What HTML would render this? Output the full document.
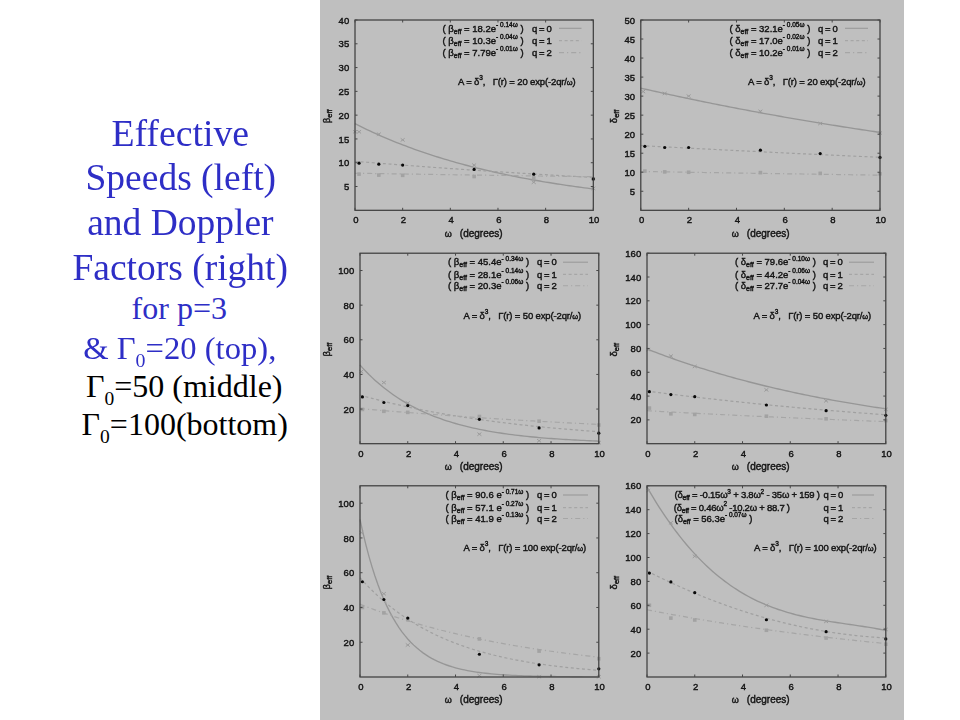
<!DOCTYPE html>
<html><head><meta charset="utf-8"><title>Effective Speeds and Doppler Factors</title>
<style>
html,body{margin:0;padding:0;background:#fff;}
body{width:960px;height:720px;position:relative;overflow:hidden;font-family:"Liberation Serif",serif;}
.panel{position:absolute;left:320px;top:0;width:584px;height:720px;background:#bfbfbf;}
svg{position:absolute;left:0;top:0;filter:blur(0.7px);}
svg text{font-family:"Liberation Sans",sans-serif;font-size:9.5px;fill:#141414;stroke:#141414;stroke-width:0.42px;}
.t{position:absolute;white-space:nowrap;text-align:center;line-height:1;}
.big{font-size:37.4px;color:#2e2ec6;transform:scaleX(1.003);}
.med{font-size:32px;color:#2e2ec6;}
.blk{font-size:32px;color:#000;}
sub{font-size:61%;vertical-align:baseline;position:relative;top:0.42em;}
</style></head><body>
<div class="panel"></div>
<div class="t big" style="left:0;width:360.5px;top:114.7px;transform:scaleX(1.01)">Effective</div>
<div class="t big" style="left:0;width:361.6px;top:158.6px">Speeds (left)</div>
<div class="t big" style="left:0;width:360.8px;top:203.5px">and Doppler</div>
<div class="t big" style="left:0;width:360.4px;top:248.7px">Factors (right)</div>
<div class="t med" style="left:0;width:358.5px;top:292.2px">for p=3</div>
<div class="t med" style="left:0;width:359.5px;top:331.5px;transform:scaleX(1.02)">&amp; Γ<sub>0</sub>=20 (top),</div>
<div class="t blk" style="left:0;width:368.5px;top:369.8px">Γ<sub>0</sub>=50 (middle)</div>
<div class="t blk" style="left:0;width:369.5px;top:408px">Γ<sub>0</sub>=100(bottom)</div>
<svg width="960" height="720" viewBox="0 0 960 720">
<g>
<polyline points="355,123.71 357.98,125.22 360.96,126.69 363.94,128.14 366.92,129.57 369.89,130.97 372.87,132.34 375.85,133.7 378.83,135.03 381.81,136.33 384.79,137.61 387.77,138.88 390.75,140.11 393.72,141.33 396.7,142.53 399.68,143.7 402.66,144.86 405.64,145.99 408.62,147.11 411.6,148.21 414.57,149.28 417.55,150.34 420.53,151.38 423.51,152.4 426.49,153.41 429.47,154.4 432.45,155.37 435.43,156.32 438.4,157.25 441.38,158.18 444.36,159.08 447.34,159.97 450.32,160.84 453.3,161.7 456.28,162.54 459.26,163.37 462.24,164.18 465.21,164.98 468.19,165.77 471.17,166.54 474.15,167.3 477.13,168.05 480.11,168.78 483.09,169.5 486.06,170.21 489.04,170.9 492.02,171.59 495,172.26 497.98,172.92 500.96,173.57 503.94,174.21 506.92,174.83 509.89,175.45 512.87,176.05 515.85,176.65 518.83,177.23 521.81,177.8 524.79,178.37 527.77,178.92 530.75,179.47 533.72,180 536.7,180.53 539.68,181.04 542.66,181.55 545.64,182.05 548.62,182.54 551.6,183.02 554.58,183.49 557.55,183.96 560.53,184.42 563.51,184.86 566.49,185.31 569.47,185.74 572.45,186.17 575.43,186.58 578.41,187 581.38,187.4 584.36,187.8 587.34,188.19 590.32,188.57 593.3,188.95" fill="none" stroke="#969696" stroke-width="1.35"/>
<polyline points="355,161.3 357.98,161.54 360.96,161.79 363.94,162.03 366.92,162.27 369.89,162.51 372.87,162.75 375.85,162.98 378.83,163.22 381.81,163.45 384.79,163.69 387.77,163.92 390.75,164.15 393.72,164.38 396.7,164.61 399.68,164.84 402.66,165.07 405.64,165.29 408.62,165.52 411.6,165.74 414.57,165.96 417.55,166.18 420.53,166.4 423.51,166.62 426.49,166.84 429.47,167.06 432.45,167.27 435.43,167.49 438.4,167.7 441.38,167.91 444.36,168.12 447.34,168.33 450.32,168.54 453.3,168.75 456.28,168.96 459.26,169.16 462.24,169.37 465.21,169.57 468.19,169.78 471.17,169.98 474.15,170.18 477.13,170.38 480.11,170.58 483.09,170.78 486.06,170.97 489.04,171.17 492.02,171.37 495,171.56 497.98,171.75 500.96,171.95 503.94,172.14 506.92,172.33 509.89,172.52 512.87,172.71 515.85,172.89 518.83,173.08 521.81,173.26 524.79,173.45 527.77,173.63 530.75,173.82 533.72,174 536.7,174.18 539.68,174.36 542.66,174.54 545.64,174.72 548.62,174.89 551.6,175.07 554.58,175.25 557.55,175.42 560.53,175.6 563.51,175.77 566.49,175.94 569.47,176.11 572.45,176.28 575.43,176.45 578.41,176.62 581.38,176.79 584.36,176.96 587.34,177.12 590.32,177.29 593.3,177.45" fill="none" stroke="#a0a0a0" stroke-width="1.2" stroke-dasharray="3 2.6"/>
<polyline points="355,173.24 357.98,173.29 360.96,173.33 363.94,173.38 366.92,173.42 369.89,173.47 372.87,173.52 375.85,173.56 378.83,173.61 381.81,173.65 384.79,173.7 387.77,173.75 390.75,173.79 393.72,173.84 396.7,173.88 399.68,173.93 402.66,173.97 405.64,174.02 408.62,174.06 411.6,174.11 414.57,174.15 417.55,174.2 420.53,174.24 423.51,174.29 426.49,174.33 429.47,174.38 432.45,174.42 435.43,174.47 438.4,174.51 441.38,174.56 444.36,174.6 447.34,174.65 450.32,174.69 453.3,174.74 456.28,174.78 459.26,174.83 462.24,174.87 465.21,174.91 468.19,174.96 471.17,175 474.15,175.05 477.13,175.09 480.11,175.13 483.09,175.18 486.06,175.22 489.04,175.27 492.02,175.31 495,175.35 497.98,175.4 500.96,175.44 503.94,175.48 506.92,175.53 509.89,175.57 512.87,175.61 515.85,175.66 518.83,175.7 521.81,175.74 524.79,175.79 527.77,175.83 530.75,175.87 533.72,175.92 536.7,175.96 539.68,176 542.66,176.05 545.64,176.09 548.62,176.13 551.6,176.17 554.58,176.22 557.55,176.26 560.53,176.3 563.51,176.34 566.49,176.39 569.47,176.43 572.45,176.47 575.43,176.51 578.41,176.56 581.38,176.6 584.36,176.64 587.34,176.68 590.32,176.72 593.3,176.77" fill="none" stroke="#a6a6a6" stroke-width="1.2" stroke-dasharray="5 3 1.2 3"/>
<path d="M353 130.2L357 133.4M353 133.4L357 130.2" stroke="#9a9a9a" stroke-width="1"/>
<path d="M357.05 130.2L361.05 133.4M357.05 133.4L361.05 130.2" stroke="#9a9a9a" stroke-width="1"/>
<path d="M376.83 132.58L380.83 135.78M376.83 135.78L380.83 132.58" stroke="#9a9a9a" stroke-width="1"/>
<path d="M400.66 138.29L404.66 141.49M400.66 141.49L404.66 138.29" stroke="#9a9a9a" stroke-width="1"/>
<path d="M472.15 163.5L476.15 166.7M472.15 166.7L476.15 163.5" stroke="#9a9a9a" stroke-width="1"/>
<path d="M531.72 180.63L535.72 183.83M531.72 183.83L535.72 180.63" stroke="#9a9a9a" stroke-width="1"/>
<path d="M591.3 186.82L595.3 190.02M591.3 190.02L595.3 186.82" stroke="#9a9a9a" stroke-width="1"/>
<rect x="357.25" y="172.34" width="3.6" height="3.6" fill="#a2a2a2"/>
<rect x="377.03" y="173.29" width="3.6" height="3.6" fill="#a2a2a2"/>
<rect x="400.86" y="173.53" width="3.6" height="3.6" fill="#a2a2a2"/>
<rect x="472.35" y="174.72" width="3.6" height="3.6" fill="#a2a2a2"/>
<rect x="531.92" y="176.15" width="3.6" height="3.6" fill="#a2a2a2"/>
<rect x="591.5" y="177.1" width="3.6" height="3.6" fill="#a2a2a2"/>
<circle cx="359.05" cy="163.2" r="1.6" fill="#080808"/>
<circle cx="378.83" cy="164.15" r="1.6" fill="#080808"/>
<circle cx="402.66" cy="165.1" r="1.6" fill="#080808"/>
<circle cx="474.15" cy="169.39" r="1.6" fill="#080808"/>
<circle cx="533.72" cy="174.14" r="1.6" fill="#080808"/>
<circle cx="593.3" cy="178.9" r="1.6" fill="#080808"/>
<rect x="355" y="20" width="238.3" height="190.3" fill="none" stroke="#3a3a3a" stroke-width="1.2"/>
<path d="M355 210.3v-2.5M355 20v2.5M402.66 210.3v-2.5M402.66 20v2.5M450.32 210.3v-2.5M450.32 20v2.5M497.98 210.3v-2.5M497.98 20v2.5M545.64 210.3v-2.5M545.64 20v2.5M593.3 210.3v-2.5M593.3 20v2.5M355 186.51h2.5M593.3 186.51h-2.5M355 162.73h2.5M593.3 162.73h-2.5M355 138.94h2.5M593.3 138.94h-2.5M355 115.15h2.5M593.3 115.15h-2.5M355 91.36h2.5M593.3 91.36h-2.5M355 67.57h2.5M593.3 67.57h-2.5M355 43.79h2.5M593.3 43.79h-2.5M355 20h2.5M593.3 20h-2.5" stroke="#484848" stroke-width="1" fill="none"/>
<text x="355.8" y="223.2" text-anchor="middle" font-size="9.2">0</text>
<text x="403.46" y="223.2" text-anchor="middle" font-size="9.2">2</text>
<text x="451.12" y="223.2" text-anchor="middle" font-size="9.2">4</text>
<text x="498.78" y="223.2" text-anchor="middle" font-size="9.2">6</text>
<text x="546.44" y="223.2" text-anchor="middle" font-size="9.2">8</text>
<text x="594.1" y="223.2" text-anchor="middle" font-size="9.2">10</text>
<text x="349.2" y="190.11" text-anchor="end" font-size="9.1">5</text>
<text x="349.2" y="166.33" text-anchor="end" font-size="9.1">10</text>
<text x="349.2" y="142.54" text-anchor="end" font-size="9.1">15</text>
<text x="349.2" y="118.75" text-anchor="end" font-size="9.1">20</text>
<text x="349.2" y="94.96" text-anchor="end" font-size="9.1">25</text>
<text x="349.2" y="71.17" text-anchor="end" font-size="9.1">30</text>
<text x="349.2" y="47.39" text-anchor="end" font-size="9.1">35</text>
<text x="349.2" y="23.6" text-anchor="end" font-size="9.1">40</text>
<text x="444" y="236.6"><tspan font-size="9" dx="0.8">ω</tspan><tspan dx="8" font-size="10">(degrees)</tspan></text>
<text transform="translate(330,123.15) rotate(-90)">β<tspan font-size="7.6" dy="2">eff</tspan></text>
<text x="442.5" y="31.5">( β<tspan font-size="7" dy="2">eff</tspan><tspan dy="-2"> = 18.2e</tspan><tspan font-size="6.5" dy="-4.6">- 0.14ω</tspan><tspan dy="4.6"> )</tspan></text>
<text x="532" y="31.5" textLength="19.8">q = 0</text>
<line x1="559" x2="581.5" y1="28.3" y2="28.3" stroke="#9a9a9a" stroke-width="1.1"/>
<text x="442.5" y="43.8">( β<tspan font-size="7" dy="2">eff</tspan><tspan dy="-2"> = 10.3e</tspan><tspan font-size="6.5" dy="-4.6">- 0.04ω</tspan><tspan dy="4.6"> )</tspan></text>
<text x="532" y="43.8" textLength="19.8">q = 1</text>
<line x1="559" x2="581.5" y1="40.599999999999994" y2="40.599999999999994" stroke="#a6a6a6" stroke-width="1.1" stroke-dasharray="3 2.6"/>
<text x="442.5" y="55.8">( β<tspan font-size="7" dy="2">eff</tspan><tspan dy="-2"> = 7.79e</tspan><tspan font-size="6.5" dy="-4.6">- 0.01ω</tspan><tspan dy="4.6"> )</tspan></text>
<text x="532" y="55.8" textLength="19.8">q = 2</text>
<line x1="559" x2="581.5" y1="52.599999999999994" y2="52.599999999999994" stroke="#a6a6a6" stroke-width="1.1" stroke-dasharray="5 3 1.2 3"/>
<text x="458" y="84.8" textLength="117.7" lengthAdjust="spacing">A = δ<tspan font-size="6.5" dy="-4.6">3</tspan><tspan dy="4.6">,&#160;&#160; Γ(r) = 20 exp(-2qr/<tspan font-size="7.5">ω</tspan>)</tspan></text>
</g>
<g>
<polyline points="640.8,88.13 643.79,88.81 646.78,89.49 649.77,90.17 652.76,90.85 655.75,91.52 658.74,92.18 661.73,92.84 664.72,93.5 667.71,94.16 670.7,94.81 673.69,95.46 676.68,96.1 679.67,96.74 682.66,97.38 685.65,98.01 688.64,98.64 691.63,99.27 694.62,99.89 697.61,100.51 700.6,101.13 703.59,101.74 706.58,102.35 709.57,102.95 712.56,103.56 715.55,104.15 718.54,104.75 721.53,105.34 724.52,105.93 727.51,106.52 730.5,107.1 733.49,107.68 736.48,108.25 739.47,108.83 742.46,109.39 745.45,109.96 748.44,110.52 751.43,111.08 754.42,111.64 757.41,112.19 760.4,112.74 763.39,113.29 766.38,113.83 769.37,114.38 772.36,114.91 775.35,115.45 778.34,115.98 781.33,116.51 784.32,117.04 787.31,117.56 790.3,118.08 793.29,118.6 796.28,119.11 799.27,119.62 802.26,120.13 805.25,120.64 808.24,121.14 811.23,121.64 814.22,122.14 817.21,122.63 820.2,123.12 823.19,123.61 826.18,124.1 829.17,124.58 832.16,125.06 835.15,125.54 838.14,126.02 841.13,126.49 844.12,126.96 847.11,127.43 850.1,127.89 853.09,128.35 856.08,128.81 859.07,129.27 862.06,129.73 865.05,130.18 868.04,130.63 871.03,131.07 874.02,131.52 877.01,131.96 880,132.4" fill="none" stroke="#969696" stroke-width="1.35"/>
<polyline points="640.8,145.6 643.79,145.76 646.78,145.92 649.77,146.08 652.76,146.24 655.75,146.4 658.74,146.56 661.73,146.72 664.72,146.88 667.71,147.04 670.7,147.2 673.69,147.35 676.68,147.51 679.67,147.67 682.66,147.82 685.65,147.98 688.64,148.14 691.63,148.29 694.62,148.45 697.61,148.6 700.6,148.75 703.59,148.91 706.58,149.06 709.57,149.21 712.56,149.37 715.55,149.52 718.54,149.67 721.53,149.82 724.52,149.97 727.51,150.12 730.5,150.27 733.49,150.42 736.48,150.57 739.47,150.72 742.46,150.87 745.45,151.02 748.44,151.17 751.43,151.31 754.42,151.46 757.41,151.61 760.4,151.76 763.39,151.9 766.38,152.05 769.37,152.19 772.36,152.34 775.35,152.48 778.34,152.63 781.33,152.77 784.32,152.91 787.31,153.06 790.3,153.2 793.29,153.34 796.28,153.49 799.27,153.63 802.26,153.77 805.25,153.91 808.24,154.05 811.23,154.19 814.22,154.33 817.21,154.47 820.2,154.61 823.19,154.75 826.18,154.89 829.17,155.03 832.16,155.16 835.15,155.3 838.14,155.44 841.13,155.58 844.12,155.71 847.11,155.85 850.1,155.99 853.09,156.12 856.08,156.26 859.07,156.39 862.06,156.53 865.05,156.66 868.04,156.79 871.03,156.93 874.02,157.06 877.01,157.19 880,157.33" fill="none" stroke="#a0a0a0" stroke-width="1.2" stroke-dasharray="3 2.6"/>
<polyline points="640.8,171.48 643.79,171.53 646.78,171.58 649.77,171.62 652.76,171.67 655.75,171.72 658.74,171.77 661.73,171.82 664.72,171.87 667.71,171.91 670.7,171.96 673.69,172.01 676.68,172.06 679.67,172.1 682.66,172.15 685.65,172.2 688.64,172.25 691.63,172.3 694.62,172.34 697.61,172.39 700.6,172.44 703.59,172.48 706.58,172.53 709.57,172.58 712.56,172.63 715.55,172.67 718.54,172.72 721.53,172.77 724.52,172.81 727.51,172.86 730.5,172.91 733.49,172.95 736.48,173 739.47,173.05 742.46,173.09 745.45,173.14 748.44,173.19 751.43,173.23 754.42,173.28 757.41,173.33 760.4,173.37 763.39,173.42 766.38,173.46 769.37,173.51 772.36,173.56 775.35,173.6 778.34,173.65 781.33,173.69 784.32,173.74 787.31,173.79 790.3,173.83 793.29,173.88 796.28,173.92 799.27,173.97 802.26,174.01 805.25,174.06 808.24,174.1 811.23,174.15 814.22,174.19 817.21,174.24 820.2,174.28 823.19,174.33 826.18,174.37 829.17,174.42 832.16,174.46 835.15,174.51 838.14,174.55 841.13,174.6 844.12,174.64 847.11,174.69 850.1,174.73 853.09,174.78 856.08,174.82 859.07,174.86 862.06,174.91 865.05,174.95 868.04,175 871.03,175.04 874.02,175.09 877.01,175.13 880,175.17" fill="none" stroke="#a6a6a6" stroke-width="1.2" stroke-dasharray="5 3 1.2 3"/>
<path d="M641.19 89.95L645.19 93.15M641.19 93.15L645.19 89.95" stroke="#9a9a9a" stroke-width="1"/>
<path d="M662.72 91.86L666.72 95.06M662.72 95.06L666.72 91.86" stroke="#9a9a9a" stroke-width="1"/>
<path d="M686.64 94.52L690.64 97.72M686.64 97.72L690.64 94.52" stroke="#9a9a9a" stroke-width="1"/>
<path d="M758.4 109.74L762.4 112.94M758.4 112.94L762.4 109.74" stroke="#9a9a9a" stroke-width="1"/>
<path d="M818.2 121.92L822.2 125.12M818.2 125.12L822.2 121.92" stroke="#9a9a9a" stroke-width="1"/>
<path d="M878 131.44L882 134.64M878 134.64L882 131.44" stroke="#9a9a9a" stroke-width="1"/>
<rect x="643.07" y="169.3" width="3.6" height="3.6" fill="#a2a2a2"/>
<rect x="662.92" y="170.06" width="3.6" height="3.6" fill="#a2a2a2"/>
<rect x="686.84" y="170.44" width="3.6" height="3.6" fill="#a2a2a2"/>
<rect x="758.6" y="170.82" width="3.6" height="3.6" fill="#a2a2a2"/>
<rect x="818.4" y="171.58" width="3.6" height="3.6" fill="#a2a2a2"/>
<rect x="878.2" y="171.96" width="3.6" height="3.6" fill="#a2a2a2"/>
<circle cx="644.87" cy="146.36" r="1.6" fill="#080808"/>
<circle cx="664.72" cy="147.5" r="1.6" fill="#080808"/>
<circle cx="688.64" cy="147.5" r="1.6" fill="#080808"/>
<circle cx="760.4" cy="150.17" r="1.6" fill="#080808"/>
<circle cx="820.2" cy="153.59" r="1.6" fill="#080808"/>
<circle cx="880" cy="157.4" r="1.6" fill="#080808"/>
<rect x="640.8" y="20" width="239.2" height="190.3" fill="none" stroke="#3a3a3a" stroke-width="1.2"/>
<path d="M640.8 210.3v-2.5M640.8 20v2.5M688.64 210.3v-2.5M688.64 20v2.5M736.48 210.3v-2.5M736.48 20v2.5M784.32 210.3v-2.5M784.32 20v2.5M832.16 210.3v-2.5M832.16 20v2.5M880 210.3v-2.5M880 20v2.5M640.8 191.27h2.5M880 191.27h-2.5M640.8 172.24h2.5M880 172.24h-2.5M640.8 153.21h2.5M880 153.21h-2.5M640.8 134.18h2.5M880 134.18h-2.5M640.8 115.15h2.5M880 115.15h-2.5M640.8 96.12h2.5M880 96.12h-2.5M640.8 77.09h2.5M880 77.09h-2.5M640.8 58.06h2.5M880 58.06h-2.5M640.8 39.03h2.5M880 39.03h-2.5M640.8 20h2.5M880 20h-2.5" stroke="#484848" stroke-width="1" fill="none"/>
<text x="641.6" y="223.2" text-anchor="middle" font-size="9.2">0</text>
<text x="689.44" y="223.2" text-anchor="middle" font-size="9.2">2</text>
<text x="737.28" y="223.2" text-anchor="middle" font-size="9.2">4</text>
<text x="785.12" y="223.2" text-anchor="middle" font-size="9.2">6</text>
<text x="832.96" y="223.2" text-anchor="middle" font-size="9.2">8</text>
<text x="880.8" y="223.2" text-anchor="middle" font-size="9.2">10</text>
<text x="635" y="194.87" text-anchor="end" font-size="9.1">5</text>
<text x="635" y="175.84" text-anchor="end" font-size="9.1">10</text>
<text x="635" y="156.81" text-anchor="end" font-size="9.1">15</text>
<text x="635" y="137.78" text-anchor="end" font-size="9.1">20</text>
<text x="635" y="118.75" text-anchor="end" font-size="9.1">25</text>
<text x="635" y="99.72" text-anchor="end" font-size="9.1">30</text>
<text x="635" y="80.69" text-anchor="end" font-size="9.1">35</text>
<text x="635" y="61.66" text-anchor="end" font-size="9.1">40</text>
<text x="635" y="42.63" text-anchor="end" font-size="9.1">45</text>
<text x="635" y="23.6" text-anchor="end" font-size="9.1">50</text>
<text x="731" y="236.6"><tspan font-size="9" dx="0.8">ω</tspan><tspan dx="8" font-size="10">(degrees)</tspan></text>
<text transform="translate(616.5,123.15) rotate(-90)">δ<tspan font-size="7.6" dy="2">eff</tspan></text>
<text x="729.5" y="31.5">( δ<tspan font-size="7" dy="2">eff</tspan><tspan dy="-2"> = 32.1e</tspan><tspan font-size="6.5" dy="-4.6">- 0.05ω</tspan><tspan dy="4.6"> )</tspan></text>
<text x="818" y="31.5" textLength="19.8">q = 0</text>
<line x1="845" x2="868" y1="28.3" y2="28.3" stroke="#9a9a9a" stroke-width="1.1"/>
<text x="729.5" y="43.8">( δ<tspan font-size="7" dy="2">eff</tspan><tspan dy="-2"> = 17.0e</tspan><tspan font-size="6.5" dy="-4.6">- 0.02ω</tspan><tspan dy="4.6"> )</tspan></text>
<text x="818" y="43.8" textLength="19.8">q = 1</text>
<line x1="845" x2="868" y1="40.599999999999994" y2="40.599999999999994" stroke="#a6a6a6" stroke-width="1.1" stroke-dasharray="3 2.6"/>
<text x="729.5" y="55.8">( δ<tspan font-size="7" dy="2">eff</tspan><tspan dy="-2"> = 10.2e</tspan><tspan font-size="6.5" dy="-4.6">- 0.01ω</tspan><tspan dy="4.6"> )</tspan></text>
<text x="818" y="55.8" textLength="19.8">q = 2</text>
<line x1="845" x2="868" y1="52.599999999999994" y2="52.599999999999994" stroke="#a6a6a6" stroke-width="1.1" stroke-dasharray="5 3 1.2 3"/>
<text x="748" y="84.8" textLength="117.7" lengthAdjust="spacing">A = δ<tspan font-size="6.5" dy="-4.6">3</tspan><tspan dy="4.6">,&#160;&#160; Γ(r) = 20 exp(-2qr/<tspan font-size="7.5">ω</tspan>)</tspan></text>
</g>
<g>
<polyline points="360,365.08 362.99,368.35 365.97,371.48 368.95,374.49 371.94,377.37 374.93,380.13 377.91,382.77 380.89,385.31 383.88,387.74 386.87,390.07 389.85,392.3 392.83,394.44 395.82,396.49 398.81,398.45 401.79,400.33 404.77,402.14 407.76,403.87 410.75,405.52 413.73,407.11 416.71,408.64 419.7,410.09 422.69,411.49 425.67,412.83 428.65,414.12 431.64,415.35 434.62,416.53 437.61,417.66 440.59,418.74 443.58,419.78 446.56,420.78 449.55,421.73 452.53,422.64 455.52,423.52 458.5,424.36 461.49,425.16 464.47,425.94 467.46,426.67 470.44,427.38 473.43,428.06 476.41,428.71 479.4,429.34 482.38,429.93 485.37,430.51 488.35,431.06 491.34,431.58 494.32,432.09 497.31,432.57 500.29,433.03 503.28,433.48 506.26,433.9 509.25,434.31 512.23,434.7 515.22,435.07 518.2,435.43 521.19,435.78 524.17,436.11 527.16,436.42 530.14,436.73 533.13,437.02 536.12,437.29 539.1,437.56 542.08,437.82 545.07,438.06 548.05,438.3 551.04,438.52 554.02,438.74 557.01,438.94 560,439.14 562.98,439.33 565.96,439.51 568.95,439.69 571.93,439.85 574.92,440.01 577.9,440.17 580.89,440.31 583.88,440.45 586.86,440.59 589.85,440.72 592.83,440.84 595.81,440.96 598.8,441.08" fill="none" stroke="#969696" stroke-width="1.35"/>
<polyline points="360,395.04 362.99,395.88 365.97,396.71 368.95,397.52 371.94,398.33 374.93,399.11 377.91,399.89 380.89,400.65 383.88,401.39 386.87,402.13 389.85,402.85 392.83,403.56 395.82,404.25 398.81,404.94 401.79,405.61 404.77,406.27 407.76,406.92 410.75,407.56 413.73,408.19 416.71,408.8 419.7,409.41 422.69,410 425.67,410.59 428.65,411.16 431.64,411.73 434.62,412.28 437.61,412.83 440.59,413.36 443.58,413.89 446.56,414.4 449.55,414.91 452.53,415.41 455.52,415.9 458.5,416.38 461.49,416.86 464.47,417.32 467.46,417.78 470.44,418.23 473.43,418.67 476.41,419.11 479.4,419.53 482.38,419.95 485.37,420.37 488.35,420.77 491.34,421.17 494.32,421.56 497.31,421.94 500.29,422.32 503.28,422.69 506.26,423.06 509.25,423.41 512.23,423.77 515.22,424.11 518.2,424.45 521.19,424.79 524.17,425.11 527.16,425.44 530.14,425.75 533.13,426.06 536.12,426.37 539.1,426.67 542.08,426.97 545.07,427.26 548.05,427.54 551.04,427.82 554.02,428.1 557.01,428.37 560,428.63 562.98,428.9 565.96,429.15 568.95,429.4 571.93,429.65 574.92,429.9 577.9,430.14 580.89,430.37 583.88,430.6 586.86,430.83 589.85,431.05 592.83,431.27 595.81,431.49 598.8,431.7" fill="none" stroke="#a0a0a0" stroke-width="1.2" stroke-dasharray="3 2.6"/>
<polyline points="360,408.54 362.99,408.81 365.97,409.07 368.95,409.33 371.94,409.58 374.93,409.84 377.91,410.09 380.89,410.34 383.88,410.59 386.87,410.84 389.85,411.08 392.83,411.33 395.82,411.57 398.81,411.81 401.79,412.05 404.77,412.28 407.76,412.52 410.75,412.75 413.73,412.98 416.71,413.21 419.7,413.44 422.69,413.67 425.67,413.89 428.65,414.11 431.64,414.34 434.62,414.55 437.61,414.77 440.59,414.99 443.58,415.2 446.56,415.42 449.55,415.63 452.53,415.84 455.52,416.05 458.5,416.25 461.49,416.46 464.47,416.66 467.46,416.86 470.44,417.06 473.43,417.26 476.41,417.46 479.4,417.66 482.38,417.85 485.37,418.04 488.35,418.24 491.34,418.43 494.32,418.61 497.31,418.8 500.29,418.99 503.28,419.17 506.26,419.36 509.25,419.54 512.23,419.72 515.22,419.9 518.2,420.08 521.19,420.25 524.17,420.43 527.16,420.6 530.14,420.77 533.13,420.94 536.12,421.11 539.1,421.28 542.08,421.45 545.07,421.62 548.05,421.78 551.04,421.95 554.02,422.11 557.01,422.27 560,422.43 562.98,422.59 565.96,422.75 568.95,422.9 571.93,423.06 574.92,423.21 577.9,423.37 580.89,423.52 583.88,423.67 586.86,423.82 589.85,423.97 592.83,424.11 595.81,424.26 598.8,424.41" fill="none" stroke="#a6a6a6" stroke-width="1.2" stroke-dasharray="5 3 1.2 3"/>
<path d="M359.19 370.06L363.19 373.26M359.19 373.26L363.19 370.06" stroke="#9a9a9a" stroke-width="1"/>
<path d="M381.88 380.97L385.88 384.17M381.88 384.17L385.88 380.97" stroke="#9a9a9a" stroke-width="1"/>
<path d="M405.76 401.4L409.76 404.6M405.76 404.6L409.76 401.4" stroke="#9a9a9a" stroke-width="1"/>
<path d="M477.4 432.57L481.4 435.78M477.4 435.78L481.4 432.57" stroke="#9a9a9a" stroke-width="1"/>
<path d="M537.1 439.16L541.1 442.36M537.1 442.36L541.1 439.16" stroke="#9a9a9a" stroke-width="1"/>
<path d="M596.8 441.06L600.8 444.26M596.8 444.26L600.8 441.06" stroke="#9a9a9a" stroke-width="1"/>
<rect x="360.59" y="407.61" width="3.6" height="3.6" fill="#a2a2a2"/>
<rect x="382.08" y="409.51" width="3.6" height="3.6" fill="#a2a2a2"/>
<rect x="405.96" y="410.55" width="3.6" height="3.6" fill="#a2a2a2"/>
<rect x="477.6" y="414.71" width="3.6" height="3.6" fill="#a2a2a2"/>
<rect x="537.3" y="419.39" width="3.6" height="3.6" fill="#a2a2a2"/>
<rect x="597" y="423.2" width="3.6" height="3.6" fill="#a2a2a2"/>
<circle cx="362.39" cy="396.94" r="1.6" fill="#080808"/>
<circle cx="383.88" cy="402.48" r="1.6" fill="#080808"/>
<circle cx="407.76" cy="405.6" r="1.6" fill="#080808"/>
<circle cx="479.4" cy="419.28" r="1.6" fill="#080808"/>
<circle cx="539.1" cy="427.94" r="1.6" fill="#080808"/>
<circle cx="598.8" cy="433.14" r="1.6" fill="#080808"/>
<rect x="360" y="253.2" width="238.8" height="190.5" fill="none" stroke="#3a3a3a" stroke-width="1.2"/>
<path d="M360 443.7v-2.5M360 253.2v2.5M407.76 443.7v-2.5M407.76 253.2v2.5M455.52 443.7v-2.5M455.52 253.2v2.5M503.28 443.7v-2.5M503.28 253.2v2.5M551.04 443.7v-2.5M551.04 253.2v2.5M598.8 443.7v-2.5M598.8 253.2v2.5M360 409.06h2.5M598.8 409.06h-2.5M360 374.43h2.5M598.8 374.43h-2.5M360 339.79h2.5M598.8 339.79h-2.5M360 305.15h2.5M598.8 305.15h-2.5M360 270.52h2.5M598.8 270.52h-2.5" stroke="#484848" stroke-width="1" fill="none"/>
<text x="360.8" y="456.6" text-anchor="middle" font-size="9.2">0</text>
<text x="408.56" y="456.6" text-anchor="middle" font-size="9.2">2</text>
<text x="456.32" y="456.6" text-anchor="middle" font-size="9.2">4</text>
<text x="504.08" y="456.6" text-anchor="middle" font-size="9.2">6</text>
<text x="551.84" y="456.6" text-anchor="middle" font-size="9.2">8</text>
<text x="599.6" y="456.6" text-anchor="middle" font-size="9.2">10</text>
<text x="354.2" y="412.66" text-anchor="end" font-size="9.1">20</text>
<text x="354.2" y="378.03" text-anchor="end" font-size="9.1">40</text>
<text x="354.2" y="343.39" text-anchor="end" font-size="9.1">60</text>
<text x="354.2" y="308.75" text-anchor="end" font-size="9.1">80</text>
<text x="354.2" y="274.12" text-anchor="end" font-size="9.1">100</text>
<text x="444" y="470"><tspan font-size="9" dx="0.8">ω</tspan><tspan dx="8" font-size="10">(degrees)</tspan></text>
<text transform="translate(330,356.45) rotate(-90)">β<tspan font-size="7.6" dy="2">eff</tspan></text>
<text x="448" y="265.4">( β<tspan font-size="7" dy="2">eff</tspan><tspan dy="-2"> = 45.4e</tspan><tspan font-size="6.5" dy="-4.6">- 0.34ω</tspan><tspan dy="4.6"> )</tspan></text>
<text x="537" y="265.4" textLength="19.8">q = 0</text>
<line x1="563" x2="588" y1="262.2" y2="262.2" stroke="#9a9a9a" stroke-width="1.1"/>
<text x="448" y="277.6">( β<tspan font-size="7" dy="2">eff</tspan><tspan dy="-2"> = 28.1e</tspan><tspan font-size="6.5" dy="-4.6">- 0.14ω</tspan><tspan dy="4.6"> )</tspan></text>
<text x="537" y="277.6" textLength="19.8">q = 1</text>
<line x1="563" x2="588" y1="274.40000000000003" y2="274.40000000000003" stroke="#a6a6a6" stroke-width="1.1" stroke-dasharray="3 2.6"/>
<text x="448" y="288.9">( β<tspan font-size="7" dy="2">eff</tspan><tspan dy="-2"> = 20.3e</tspan><tspan font-size="6.5" dy="-4.6">- 0.06ω</tspan><tspan dy="4.6"> )</tspan></text>
<text x="537" y="288.9" textLength="19.8">q = 2</text>
<line x1="563" x2="588" y1="285.7" y2="285.7" stroke="#a6a6a6" stroke-width="1.1" stroke-dasharray="5 3 1.2 3"/>
<text x="463.5" y="318.5" textLength="117.7" lengthAdjust="spacing">A = δ<tspan font-size="6.5" dy="-4.6">3</tspan><tspan dy="4.6">,&#160;&#160; Γ(r) = 50 exp(-2qr/<tspan font-size="7.5">ω</tspan>)</tspan></text>
</g>
<g>
<polyline points="647,348.93 649.99,350.1 652.97,351.27 655.96,352.41 658.94,353.55 661.92,354.67 664.91,355.77 667.89,356.87 670.88,357.95 673.87,359.01 676.85,360.06 679.84,361.1 682.82,362.13 685.8,363.14 688.79,364.14 691.77,365.13 694.76,366.11 697.75,367.07 700.73,368.02 703.72,368.96 706.7,369.89 709.68,370.81 712.67,371.71 715.65,372.61 718.64,373.49 721.62,374.36 724.61,375.22 727.6,376.07 730.58,376.91 733.56,377.74 736.55,378.56 739.53,379.37 742.52,380.17 745.5,380.96 748.49,381.74 751.48,382.51 754.46,383.27 757.44,384.02 760.43,384.76 763.41,385.49 766.4,386.22 769.38,386.93 772.37,387.64 775.36,388.33 778.34,389.02 781.33,389.7 784.31,390.37 787.29,391.03 790.28,391.69 793.26,392.33 796.25,392.97 799.23,393.6 802.22,394.22 805.2,394.84 808.19,395.45 811.17,396.04 814.16,396.64 817.14,397.22 820.13,397.8 823.12,398.37 826.1,398.93 829.08,399.49 832.07,400.04 835.05,400.58 838.04,401.12 841.02,401.64 844.01,402.17 847,402.68 849.98,403.19 852.96,403.7 855.95,404.19 858.93,404.68 861.92,405.17 864.9,405.65 867.89,406.12 870.88,406.59 873.86,407.05 876.85,407.5 879.83,407.95 882.81,408.4 885.8,408.83" fill="none" stroke="#969696" stroke-width="1.35"/>
<polyline points="647,391.07 649.99,391.47 652.97,391.86 655.96,392.25 658.94,392.63 661.92,393.01 664.91,393.39 667.89,393.77 670.88,394.14 673.87,394.51 676.85,394.88 679.84,395.24 682.82,395.6 685.8,395.96 688.79,396.32 691.77,396.67 694.76,397.03 697.75,397.37 700.73,397.72 703.72,398.06 706.7,398.4 709.68,398.74 712.67,399.08 715.65,399.41 718.64,399.74 721.62,400.07 724.61,400.4 727.6,400.72 730.58,401.04 733.56,401.36 736.55,401.68 739.53,401.99 742.52,402.3 745.5,402.61 748.49,402.92 751.48,403.22 754.46,403.53 757.44,403.83 760.43,404.12 763.41,404.42 766.4,404.71 769.38,405.01 772.37,405.29 775.36,405.58 778.34,405.87 781.33,406.15 784.31,406.43 787.29,406.71 790.28,406.98 793.26,407.26 796.25,407.53 799.23,407.8 802.22,408.07 805.2,408.34 808.19,408.6 811.17,408.86 814.16,409.12 817.14,409.38 820.13,409.64 823.12,409.89 826.1,410.14 829.08,410.4 832.07,410.64 835.05,410.89 838.04,411.14 841.02,411.38 844.01,411.62 847,411.86 849.98,412.1 852.96,412.33 855.95,412.57 858.93,412.8 861.92,413.03 864.9,413.26 867.89,413.49 870.88,413.71 873.86,413.94 876.85,414.16 879.83,414.38 882.81,414.6 885.8,414.82" fill="none" stroke="#a0a0a0" stroke-width="1.2" stroke-dasharray="3 2.6"/>
<polyline points="647,410.72 649.99,410.88 652.97,411.05 655.96,411.21 658.94,411.37 661.92,411.53 664.91,411.69 667.89,411.85 670.88,412.01 673.87,412.17 676.85,412.33 679.84,412.48 682.82,412.64 685.8,412.8 688.79,412.95 691.77,413.1 694.76,413.26 697.75,413.41 700.73,413.56 703.72,413.71 706.7,413.86 709.68,414.01 712.67,414.16 715.65,414.3 718.64,414.45 721.62,414.59 724.61,414.74 727.6,414.88 730.58,415.03 733.56,415.17 736.55,415.31 739.53,415.46 742.52,415.6 745.5,415.74 748.49,415.88 751.48,416.01 754.46,416.15 757.44,416.29 760.43,416.43 763.41,416.56 766.4,416.7 769.38,416.83 772.37,416.97 775.36,417.1 778.34,417.23 781.33,417.36 784.31,417.5 787.29,417.63 790.28,417.76 793.26,417.89 796.25,418.01 799.23,418.14 802.22,418.27 805.2,418.4 808.19,418.52 811.17,418.65 814.16,418.77 817.14,418.9 820.13,419.02 823.12,419.15 826.1,419.27 829.08,419.39 832.07,419.51 835.05,419.63 838.04,419.75 841.02,419.87 844.01,419.99 847,420.11 849.98,420.23 852.96,420.34 855.95,420.46 858.93,420.58 861.92,420.69 864.9,420.81 867.89,420.92 870.88,421.03 873.86,421.15 876.85,421.26 879.83,421.37 882.81,421.48 885.8,421.59" fill="none" stroke="#a6a6a6" stroke-width="1.2" stroke-dasharray="5 3 1.2 3"/>
<path d="M646.19 348.04L650.19 351.24M646.19 351.24L650.19 348.04" stroke="#9a9a9a" stroke-width="1"/>
<path d="M668.88 354.47L672.88 357.67M668.88 357.67L672.88 354.47" stroke="#9a9a9a" stroke-width="1"/>
<path d="M692.76 364.83L696.76 368.03M692.76 368.03L696.76 364.83" stroke="#9a9a9a" stroke-width="1"/>
<path d="M764.4 388.28L768.4 391.48M764.4 391.48L768.4 388.28" stroke="#9a9a9a" stroke-width="1"/>
<path d="M824.1 399.24L828.1 402.44M824.1 402.44L828.1 399.24" stroke="#9a9a9a" stroke-width="1"/>
<path d="M883.8 407.81L887.8 411.01M883.8 411.01L887.8 407.81" stroke="#9a9a9a" stroke-width="1"/>
<rect x="647.59" y="406.3" width="3.6" height="3.6" fill="#a2a2a2"/>
<rect x="669.08" y="412.02" width="3.6" height="3.6" fill="#a2a2a2"/>
<rect x="692.96" y="412.61" width="3.6" height="3.6" fill="#a2a2a2"/>
<rect x="764.6" y="414.4" width="3.6" height="3.6" fill="#a2a2a2"/>
<rect x="824.3" y="417.02" width="3.6" height="3.6" fill="#a2a2a2"/>
<rect x="884" y="418.8" width="3.6" height="3.6" fill="#a2a2a2"/>
<circle cx="649.39" cy="391.67" r="1.6" fill="#080808"/>
<circle cx="670.88" cy="394.53" r="1.6" fill="#080808"/>
<circle cx="694.76" cy="396.67" r="1.6" fill="#080808"/>
<circle cx="766.4" cy="405" r="1.6" fill="#080808"/>
<circle cx="826.1" cy="410.72" r="1.6" fill="#080808"/>
<circle cx="885.8" cy="415.36" r="1.6" fill="#080808"/>
<rect x="647" y="253.2" width="238.8" height="190.5" fill="none" stroke="#3a3a3a" stroke-width="1.2"/>
<path d="M647 443.7v-2.5M647 253.2v2.5M694.76 443.7v-2.5M694.76 253.2v2.5M742.52 443.7v-2.5M742.52 253.2v2.5M790.28 443.7v-2.5M790.28 253.2v2.5M838.04 443.7v-2.5M838.04 253.2v2.5M885.8 443.7v-2.5M885.8 253.2v2.5M647 419.89h2.5M885.8 419.89h-2.5M647 396.07h2.5M885.8 396.07h-2.5M647 372.26h2.5M885.8 372.26h-2.5M647 348.45h2.5M885.8 348.45h-2.5M647 324.64h2.5M885.8 324.64h-2.5M647 300.82h2.5M885.8 300.82h-2.5M647 277.01h2.5M885.8 277.01h-2.5M647 253.2h2.5M885.8 253.2h-2.5" stroke="#484848" stroke-width="1" fill="none"/>
<text x="647.8" y="456.6" text-anchor="middle" font-size="9.2">0</text>
<text x="695.56" y="456.6" text-anchor="middle" font-size="9.2">2</text>
<text x="743.32" y="456.6" text-anchor="middle" font-size="9.2">4</text>
<text x="791.08" y="456.6" text-anchor="middle" font-size="9.2">6</text>
<text x="838.84" y="456.6" text-anchor="middle" font-size="9.2">8</text>
<text x="886.6" y="456.6" text-anchor="middle" font-size="9.2">10</text>
<text x="641.2" y="423.49" text-anchor="end" font-size="9.1">20</text>
<text x="641.2" y="399.68" text-anchor="end" font-size="9.1">40</text>
<text x="641.2" y="375.86" text-anchor="end" font-size="9.1">60</text>
<text x="641.2" y="352.05" text-anchor="end" font-size="9.1">80</text>
<text x="641.2" y="328.24" text-anchor="end" font-size="9.1">100</text>
<text x="641.2" y="304.43" text-anchor="end" font-size="9.1">120</text>
<text x="641.2" y="280.61" text-anchor="end" font-size="9.1">140</text>
<text x="641.2" y="256.8" text-anchor="end" font-size="9.1">160</text>
<text x="731" y="470"><tspan font-size="9" dx="0.8">ω</tspan><tspan dx="8" font-size="10">(degrees)</tspan></text>
<text transform="translate(616.5,356.45) rotate(-90)">δ<tspan font-size="7.6" dy="2">eff</tspan></text>
<text x="735" y="265.4">( δ<tspan font-size="7" dy="2">eff</tspan><tspan dy="-2"> = 79.6e</tspan><tspan font-size="6.5" dy="-4.6">- 0.10ω</tspan><tspan dy="4.6"> )</tspan></text>
<text x="823" y="265.4" textLength="19.8">q = 0</text>
<line x1="849" x2="874" y1="262.2" y2="262.2" stroke="#9a9a9a" stroke-width="1.1"/>
<text x="735" y="277.6">( δ<tspan font-size="7" dy="2">eff</tspan><tspan dy="-2"> = 44.2e</tspan><tspan font-size="6.5" dy="-4.6">- 0.06ω</tspan><tspan dy="4.6"> )</tspan></text>
<text x="823" y="277.6" textLength="19.8">q = 1</text>
<line x1="849" x2="874" y1="274.40000000000003" y2="274.40000000000003" stroke="#a6a6a6" stroke-width="1.1" stroke-dasharray="3 2.6"/>
<text x="735" y="288.9">( δ<tspan font-size="7" dy="2">eff</tspan><tspan dy="-2"> = 27.7e</tspan><tspan font-size="6.5" dy="-4.6">- 0.04ω</tspan><tspan dy="4.6"> )</tspan></text>
<text x="823" y="288.9" textLength="19.8">q = 2</text>
<line x1="849" x2="874" y1="285.7" y2="285.7" stroke="#a6a6a6" stroke-width="1.1" stroke-dasharray="5 3 1.2 3"/>
<text x="753.5" y="318.5" textLength="117.7" lengthAdjust="spacing">A = δ<tspan font-size="6.5" dy="-4.6">3</tspan><tspan dy="4.6">,&#160;&#160; Γ(r) = 50 exp(-2qr/<tspan font-size="7.5">ω</tspan>)</tspan></text>
</g>
<g>
<polyline points="360,519.52 362.99,532.89 365.97,545.13 368.95,556.33 371.94,566.58 374.93,575.96 377.91,584.54 380.89,592.39 383.88,599.58 386.87,606.15 389.85,612.17 392.83,617.67 395.82,622.71 398.81,627.32 401.79,631.54 404.77,635.4 407.76,638.94 410.75,642.17 413.73,645.13 416.71,647.83 419.7,650.31 422.69,652.58 425.67,654.65 428.65,656.55 431.64,658.29 434.62,659.87 437.61,661.33 440.59,662.66 443.58,663.88 446.56,664.99 449.55,666.01 452.53,666.95 455.52,667.8 458.5,668.58 461.49,669.3 464.47,669.95 467.46,670.55 470.44,671.1 473.43,671.6 476.41,672.06 479.4,672.48 482.38,672.86 485.37,673.21 488.35,673.53 491.34,673.83 494.32,674.1 497.31,674.34 500.29,674.57 503.28,674.78 506.26,674.96 509.25,675.14 512.23,675.3 515.22,675.44 518.2,675.57 521.19,675.69 524.17,675.81 527.16,675.91 530.14,676 533.13,676.08 536.12,676.16 539.1,676.23 542.08,676.3 545.07,676.36 548.05,676.41 551.04,676.46 554.02,676.51 557.01,676.55 560,676.59 562.98,676.62 565.96,676.66 568.95,676.68 571.93,676.71 574.92,676.74 577.9,676.76 580.89,676.78 583.88,676.8 586.86,676.81 589.85,676.83 592.83,676.84 595.81,676.86 598.8,676.87" fill="none" stroke="#969696" stroke-width="1.35"/>
<polyline points="360,577.75 362.99,581.04 365.97,584.23 368.95,587.31 371.94,590.28 374.93,593.16 377.91,595.94 380.89,598.63 383.88,601.23 386.87,603.75 389.85,606.18 392.83,608.53 395.82,610.8 398.81,613 401.79,615.12 404.77,617.18 407.76,619.16 410.75,621.08 413.73,622.94 416.71,624.73 419.7,626.47 422.69,628.14 425.67,629.76 428.65,631.33 431.64,632.85 434.62,634.31 437.61,635.73 440.59,637.1 443.58,638.42 446.56,639.7 449.55,640.94 452.53,642.14 455.52,643.3 458.5,644.41 461.49,645.5 464.47,646.54 467.46,647.55 470.44,648.53 473.43,649.47 476.41,650.39 479.4,651.27 482.38,652.12 485.37,652.95 488.35,653.75 491.34,654.52 494.32,655.27 497.31,655.99 500.29,656.68 503.28,657.36 506.26,658.01 509.25,658.64 512.23,659.25 515.22,659.84 518.2,660.41 521.19,660.96 524.17,661.49 527.16,662.01 530.14,662.5 533.13,662.98 536.12,663.45 539.1,663.9 542.08,664.33 545.07,664.75 548.05,665.16 551.04,665.55 554.02,665.93 557.01,666.3 560,666.66 562.98,667 565.96,667.33 568.95,667.65 571.93,667.96 574.92,668.26 577.9,668.55 580.89,668.83 583.88,669.1 586.86,669.37 589.85,669.62 592.83,669.86 595.81,670.1 598.8,670.33" fill="none" stroke="#a0a0a0" stroke-width="1.2" stroke-dasharray="3 2.6"/>
<polyline points="360,604.17 362.99,605.34 365.97,606.5 368.95,607.64 371.94,608.75 374.93,609.85 377.91,610.94 380.89,612 383.88,613.05 386.87,614.08 389.85,615.09 392.83,616.09 395.82,617.07 398.81,618.04 401.79,618.99 404.77,619.92 407.76,620.84 410.75,621.75 413.73,622.64 416.71,623.52 419.7,624.38 422.69,625.23 425.67,626.06 428.65,626.88 431.64,627.69 434.62,628.48 437.61,629.27 440.59,630.04 443.58,630.79 446.56,631.54 449.55,632.27 452.53,632.99 455.52,633.7 458.5,634.4 461.49,635.09 464.47,635.76 467.46,636.43 470.44,637.08 473.43,637.72 476.41,638.36 479.4,638.98 482.38,639.59 485.37,640.2 488.35,640.79 491.34,641.37 494.32,641.95 497.31,642.51 500.29,643.07 503.28,643.61 506.26,644.15 509.25,644.68 512.23,645.2 515.22,645.72 518.2,646.22 521.19,646.72 524.17,647.2 527.16,647.68 530.14,648.16 533.13,648.62 536.12,649.08 539.1,649.53 542.08,649.97 545.07,650.41 548.05,650.84 551.04,651.26 554.02,651.67 557.01,652.08 560,652.48 562.98,652.88 565.96,653.27 568.95,653.65 571.93,654.03 574.92,654.4 577.9,654.76 580.89,655.12 583.88,655.47 586.86,655.82 589.85,656.16 592.83,656.5 595.81,656.83 598.8,657.15" fill="none" stroke="#a6a6a6" stroke-width="1.2" stroke-dasharray="5 3 1.2 3"/>
<path d="M359.19 530.96L363.19 534.16M359.19 534.16L363.19 530.96" stroke="#9a9a9a" stroke-width="1"/>
<path d="M381.88 592.14L385.88 595.34M381.88 595.34L385.88 592.14" stroke="#9a9a9a" stroke-width="1"/>
<path d="M405.76 643.42L409.76 646.62M405.76 646.62L409.76 643.42" stroke="#9a9a9a" stroke-width="1"/>
<path d="M477.4 674.01L481.4 677.21M477.4 677.21L481.4 674.01" stroke="#9a9a9a" stroke-width="1"/>
<path d="M537.1 675.05L541.1 678.25M537.1 678.25L541.1 675.05" stroke="#9a9a9a" stroke-width="1"/>
<path d="M596.8 675.23L600.8 678.43M596.8 678.43L600.8 675.23" stroke="#9a9a9a" stroke-width="1"/>
<rect x="360.59" y="605.67" width="3.6" height="3.6" fill="#a2a2a2"/>
<rect x="382.08" y="611.06" width="3.6" height="3.6" fill="#a2a2a2"/>
<rect x="405.96" y="617.84" width="3.6" height="3.6" fill="#a2a2a2"/>
<rect x="477.6" y="637.13" width="3.6" height="3.6" fill="#a2a2a2"/>
<rect x="537.3" y="649.3" width="3.6" height="3.6" fill="#a2a2a2"/>
<rect x="597" y="656.95" width="3.6" height="3.6" fill="#a2a2a2"/>
<circle cx="362.39" cy="581.75" r="1.6" fill="#080808"/>
<circle cx="383.88" cy="599.48" r="1.6" fill="#080808"/>
<circle cx="407.76" cy="618.08" r="1.6" fill="#080808"/>
<circle cx="479.4" cy="654.23" r="1.6" fill="#080808"/>
<circle cx="539.1" cy="664.83" r="1.6" fill="#080808"/>
<circle cx="598.8" cy="668.83" r="1.6" fill="#080808"/>
<rect x="360" y="485.8" width="238.8" height="191.2" fill="none" stroke="#3a3a3a" stroke-width="1.2"/>
<path d="M360 677v-2.5M360 485.8v2.5M407.76 677v-2.5M407.76 485.8v2.5M455.52 677v-2.5M455.52 485.8v2.5M503.28 677v-2.5M503.28 485.8v2.5M551.04 677v-2.5M551.04 485.8v2.5M598.8 677v-2.5M598.8 485.8v2.5M360 642.24h2.5M598.8 642.24h-2.5M360 607.47h2.5M598.8 607.47h-2.5M360 572.71h2.5M598.8 572.71h-2.5M360 537.95h2.5M598.8 537.95h-2.5M360 503.18h2.5M598.8 503.18h-2.5" stroke="#484848" stroke-width="1" fill="none"/>
<text x="360.8" y="689.9" text-anchor="middle" font-size="9.2">0</text>
<text x="408.56" y="689.9" text-anchor="middle" font-size="9.2">2</text>
<text x="456.32" y="689.9" text-anchor="middle" font-size="9.2">4</text>
<text x="504.08" y="689.9" text-anchor="middle" font-size="9.2">6</text>
<text x="551.84" y="689.9" text-anchor="middle" font-size="9.2">8</text>
<text x="599.6" y="689.9" text-anchor="middle" font-size="9.2">10</text>
<text x="354.2" y="645.84" text-anchor="end" font-size="9.1">20</text>
<text x="354.2" y="611.07" text-anchor="end" font-size="9.1">40</text>
<text x="354.2" y="576.31" text-anchor="end" font-size="9.1">60</text>
<text x="354.2" y="541.55" text-anchor="end" font-size="9.1">80</text>
<text x="354.2" y="506.78" text-anchor="end" font-size="9.1">100</text>
<text x="444" y="703.3"><tspan font-size="9" dx="0.8">ω</tspan><tspan dx="8" font-size="10">(degrees)</tspan></text>
<text transform="translate(330,589.4) rotate(-90)">β<tspan font-size="7.6" dy="2">eff</tspan></text>
<text x="445.5" y="498.2">( β<tspan font-size="7" dy="2">eff</tspan><tspan dy="-2"> = 90.6 e</tspan><tspan font-size="6.5" dy="-4.6">- 0.71ω</tspan><tspan dy="4.6"> )</tspan></text>
<text x="537" y="498.2" textLength="19.8">q = 0</text>
<line x1="563" x2="588" y1="495.0" y2="495.0" stroke="#9a9a9a" stroke-width="1.1"/>
<text x="445.5" y="510.8">( β<tspan font-size="7" dy="2">eff</tspan><tspan dy="-2"> = 57.1 e</tspan><tspan font-size="6.5" dy="-4.6">- 0.27ω</tspan><tspan dy="4.6"> )</tspan></text>
<text x="537" y="510.8" textLength="19.8">q = 1</text>
<line x1="563" x2="588" y1="507.6" y2="507.6" stroke="#a6a6a6" stroke-width="1.1" stroke-dasharray="3 2.6"/>
<text x="445.5" y="521.7">( β<tspan font-size="7" dy="2">eff</tspan><tspan dy="-2"> = 41.9 e</tspan><tspan font-size="6.5" dy="-4.6">- 0.13ω</tspan><tspan dy="4.6"> )</tspan></text>
<text x="537" y="521.7" textLength="19.8">q = 2</text>
<line x1="563" x2="588" y1="518.5" y2="518.5" stroke="#a6a6a6" stroke-width="1.1" stroke-dasharray="5 3 1.2 3"/>
<text x="463.5" y="550.8" textLength="122.7" lengthAdjust="spacing">A = δ<tspan font-size="6.5" dy="-4.6">3</tspan><tspan dy="4.6">,&#160;&#160; Γ(r) = 100 exp(-2qr/<tspan font-size="7.5">ω</tspan>)</tspan></text>
</g>
<g>
<polyline points="647,487 649.99,492.15 652.97,497.17 655.96,502.05 658.94,506.79 661.92,511.41 664.91,515.89 667.89,520.24 670.88,524.46 673.87,528.56 676.85,532.53 679.84,536.39 682.82,540.12 685.8,543.74 688.79,547.24 691.77,550.63 694.76,553.91 697.75,557.09 700.73,560.15 703.72,563.12 706.7,565.98 709.68,568.74 712.67,571.4 715.65,573.97 718.64,576.44 721.62,578.82 724.61,581.12 727.6,583.32 730.58,585.44 733.56,587.48 736.55,589.43 739.53,591.31 742.52,593.11 745.5,594.84 748.49,596.49 751.48,598.07 754.46,599.59 757.44,601.03 760.43,602.42 763.41,603.74 766.4,605 769.38,606.21 772.37,607.35 775.36,608.45 778.34,609.49 781.33,610.48 784.31,611.43 787.29,612.33 790.28,613.19 793.26,614 796.25,614.78 799.23,615.52 802.22,616.23 805.2,616.9 808.19,617.54 811.17,618.16 814.16,618.74 817.14,619.31 820.13,619.85 823.12,620.37 826.1,620.87 829.08,621.36 832.07,621.83 835.05,622.29 838.04,622.75 841.02,623.19 844.01,623.63 847,624.07 849.98,624.5 852.96,624.94 855.95,625.38 858.93,625.82 861.92,626.27 864.9,626.73 867.89,627.2 870.88,627.69 873.86,628.19 876.85,628.71 879.83,629.25 882.81,629.81 885.8,630.39" fill="none" stroke="#969696" stroke-width="1.35"/>
<polyline points="647,571 649.99,572.52 652.97,574.02 655.96,575.5 658.94,576.96 661.92,578.41 664.91,579.84 667.89,581.25 670.88,582.64 673.87,584.02 676.85,585.38 679.84,586.72 682.82,588.05 685.8,589.36 688.79,590.65 691.77,591.93 694.76,593.18 697.75,594.42 700.73,595.65 703.72,596.85 706.7,598.04 709.68,599.21 712.67,600.37 715.65,601.5 718.64,602.62 721.62,603.73 724.61,604.81 727.6,605.88 730.58,606.93 733.56,607.97 736.55,608.98 739.53,609.98 742.52,610.96 745.5,611.93 748.49,612.88 751.48,613.81 754.46,614.72 757.44,615.62 760.43,616.5 763.41,617.36 766.4,618.21 769.38,619.03 772.37,619.84 775.36,620.64 778.34,621.41 781.33,622.17 784.31,622.92 787.29,623.64 790.28,624.35 793.26,625.04 796.25,625.71 799.23,626.37 802.22,627.01 805.2,627.63 808.19,628.23 811.17,628.82 814.16,629.39 817.14,629.94 820.13,630.48 823.12,631 826.1,631.5 829.08,631.98 832.07,632.45 835.05,632.9 838.04,633.33 841.02,633.75 844.01,634.15 847,634.53 849.98,634.89 852.96,635.24 855.95,635.57 858.93,635.88 861.92,636.18 864.9,636.46 867.89,636.72 870.88,636.96 873.86,637.19 876.85,637.4 879.83,637.59 882.81,637.77 885.8,637.92" fill="none" stroke="#a0a0a0" stroke-width="1.2" stroke-dasharray="3 2.6"/>
<polyline points="647,609.72 649.99,610.31 652.97,610.89 655.96,611.46 658.94,612.04 661.92,612.6 664.91,613.16 667.89,613.72 670.88,614.27 673.87,614.82 676.85,615.36 679.84,615.9 682.82,616.43 685.8,616.96 688.79,617.48 691.77,618 694.76,618.51 697.75,619.02 700.73,619.53 703.72,620.03 706.7,620.52 709.68,621.01 712.67,621.5 715.65,621.99 718.64,622.47 721.62,622.94 724.61,623.41 727.6,623.88 730.58,624.34 733.56,624.8 736.55,625.25 739.53,625.71 742.52,626.15 745.5,626.59 748.49,627.03 751.48,627.47 754.46,627.9 757.44,628.33 760.43,628.75 763.41,629.17 766.4,629.59 769.38,630 772.37,630.41 775.36,630.82 778.34,631.22 781.33,631.62 784.31,632.01 787.29,632.41 790.28,632.79 793.26,633.18 796.25,633.56 799.23,633.94 802.22,634.32 805.2,634.69 808.19,635.06 811.17,635.42 814.16,635.78 817.14,636.14 820.13,636.5 823.12,636.85 826.1,637.2 829.08,637.55 832.07,637.89 835.05,638.23 838.04,638.57 841.02,638.9 844.01,639.24 847,639.57 849.98,639.89 852.96,640.21 855.95,640.54 858.93,640.85 861.92,641.17 864.9,641.48 867.89,641.79 870.88,642.1 873.86,642.4 876.85,642.7 879.83,643 882.81,643.3 885.8,643.59" fill="none" stroke="#a6a6a6" stroke-width="1.2" stroke-dasharray="5 3 1.2 3"/>
<path d="M646.19 488.98L650.19 492.18M646.19 492.18L650.19 488.98" stroke="#9a9a9a" stroke-width="1"/>
<path d="M668.88 521.25L672.88 524.45M668.88 524.45L672.88 521.25" stroke="#9a9a9a" stroke-width="1"/>
<path d="M692.76 554.71L696.76 557.91M692.76 557.91L696.76 554.71" stroke="#9a9a9a" stroke-width="1"/>
<path d="M764.4 603.7L768.4 606.9M764.4 606.9L768.4 603.7" stroke="#9a9a9a" stroke-width="1"/>
<path d="M824.1 619.83L828.1 623.03M824.1 623.03L828.1 619.83" stroke="#9a9a9a" stroke-width="1"/>
<path d="M883.8 627.84L887.8 631.04M883.8 631.04L887.8 627.84" stroke="#9a9a9a" stroke-width="1"/>
<rect x="647.59" y="603.5" width="3.6" height="3.6" fill="#a2a2a2"/>
<rect x="669.08" y="616.29" width="3.6" height="3.6" fill="#a2a2a2"/>
<rect x="692.96" y="618.2" width="3.6" height="3.6" fill="#a2a2a2"/>
<rect x="764.6" y="628.48" width="3.6" height="3.6" fill="#a2a2a2"/>
<rect x="824.3" y="636.24" width="3.6" height="3.6" fill="#a2a2a2"/>
<rect x="884" y="642.46" width="3.6" height="3.6" fill="#a2a2a2"/>
<circle cx="649.39" cy="573.03" r="1.6" fill="#080808"/>
<circle cx="670.88" cy="581.88" r="1.6" fill="#080808"/>
<circle cx="694.76" cy="592.63" r="1.6" fill="#080808"/>
<circle cx="766.4" cy="619.76" r="1.6" fill="#080808"/>
<circle cx="826.1" cy="631.71" r="1.6" fill="#080808"/>
<circle cx="885.8" cy="638.88" r="1.6" fill="#080808"/>
<rect x="647" y="485.8" width="238.8" height="191.2" fill="none" stroke="#3a3a3a" stroke-width="1.2"/>
<path d="M647 677v-2.5M647 485.8v2.5M694.76 677v-2.5M694.76 485.8v2.5M742.52 677v-2.5M742.52 485.8v2.5M790.28 677v-2.5M790.28 485.8v2.5M838.04 677v-2.5M838.04 485.8v2.5M885.8 677v-2.5M885.8 485.8v2.5M647 653.1h2.5M885.8 653.1h-2.5M647 629.2h2.5M885.8 629.2h-2.5M647 605.3h2.5M885.8 605.3h-2.5M647 581.4h2.5M885.8 581.4h-2.5M647 557.5h2.5M885.8 557.5h-2.5M647 533.6h2.5M885.8 533.6h-2.5M647 509.7h2.5M885.8 509.7h-2.5M647 485.8h2.5M885.8 485.8h-2.5" stroke="#484848" stroke-width="1" fill="none"/>
<text x="647.8" y="689.9" text-anchor="middle" font-size="9.2">0</text>
<text x="695.56" y="689.9" text-anchor="middle" font-size="9.2">2</text>
<text x="743.32" y="689.9" text-anchor="middle" font-size="9.2">4</text>
<text x="791.08" y="689.9" text-anchor="middle" font-size="9.2">6</text>
<text x="838.84" y="689.9" text-anchor="middle" font-size="9.2">8</text>
<text x="886.6" y="689.9" text-anchor="middle" font-size="9.2">10</text>
<text x="641.2" y="656.7" text-anchor="end" font-size="9.1">20</text>
<text x="641.2" y="632.8" text-anchor="end" font-size="9.1">40</text>
<text x="641.2" y="608.9" text-anchor="end" font-size="9.1">60</text>
<text x="641.2" y="585" text-anchor="end" font-size="9.1">80</text>
<text x="641.2" y="561.1" text-anchor="end" font-size="9.1">100</text>
<text x="641.2" y="537.2" text-anchor="end" font-size="9.1">120</text>
<text x="641.2" y="513.3" text-anchor="end" font-size="9.1">140</text>
<text x="641.2" y="489.4" text-anchor="end" font-size="9.1">160</text>
<text x="731" y="703.3"><tspan font-size="9" dx="0.8">ω</tspan><tspan dx="8" font-size="10">(degrees)</tspan></text>
<text transform="translate(616.5,589.4) rotate(-90)">δ<tspan font-size="7.6" dy="2">eff</tspan></text>
<text x="674.5" y="498.2" textLength="145.5" lengthAdjust="spacing">(δ<tspan font-size="7" dy="2">eff</tspan><tspan dy="-2"> = -0.15ω</tspan><tspan font-size="6.5" dy="-4.6">3</tspan><tspan dy="4.6"> + 3.8ω</tspan><tspan font-size="6.5" dy="-4.6">2</tspan><tspan dy="4.6"> - 35ω + 159 )</tspan></text>
<text x="823.5" y="498.2" textLength="19.8">q = 0</text>
<line x1="852" x2="874" y1="495.0" y2="495.0" stroke="#9a9a9a" stroke-width="1.1"/>
<text x="673.8" y="510.8" textLength="116.2" lengthAdjust="spacing">(δ<tspan font-size="7" dy="2">eff</tspan><tspan dy="-2"> = 0.46ω</tspan><tspan font-size="6.5" dy="-4.6">2</tspan><tspan dy="4.6"> -10.2ω + 88.7 )</tspan></text>
<text x="823.5" y="510.8" textLength="19.8">q = 1</text>
<line x1="852" x2="874" y1="507.6" y2="507.6" stroke="#a6a6a6" stroke-width="1.1" stroke-dasharray="3 2.6"/>
<text x="674.5" y="521.7" textLength="77.8" lengthAdjust="spacing">(δ<tspan font-size="7" dy="2">eff</tspan><tspan dy="-2"> = 56.3e</tspan><tspan font-size="6.5" dy="-4.6">- 0.07ω</tspan><tspan dy="4.6"> )</tspan></text>
<text x="823.5" y="521.7" textLength="19.8">q = 2</text>
<line x1="852" x2="874" y1="518.5" y2="518.5" stroke="#a6a6a6" stroke-width="1.1" stroke-dasharray="5 3 1.2 3"/>
<text x="754" y="550.8" textLength="122.7" lengthAdjust="spacing">A = δ<tspan font-size="6.5" dy="-4.6">3</tspan><tspan dy="4.6">,&#160;&#160; Γ(r) = 100 exp(-2qr/<tspan font-size="7.5">ω</tspan>)</tspan></text>
</g>
</svg>
</body></html>
